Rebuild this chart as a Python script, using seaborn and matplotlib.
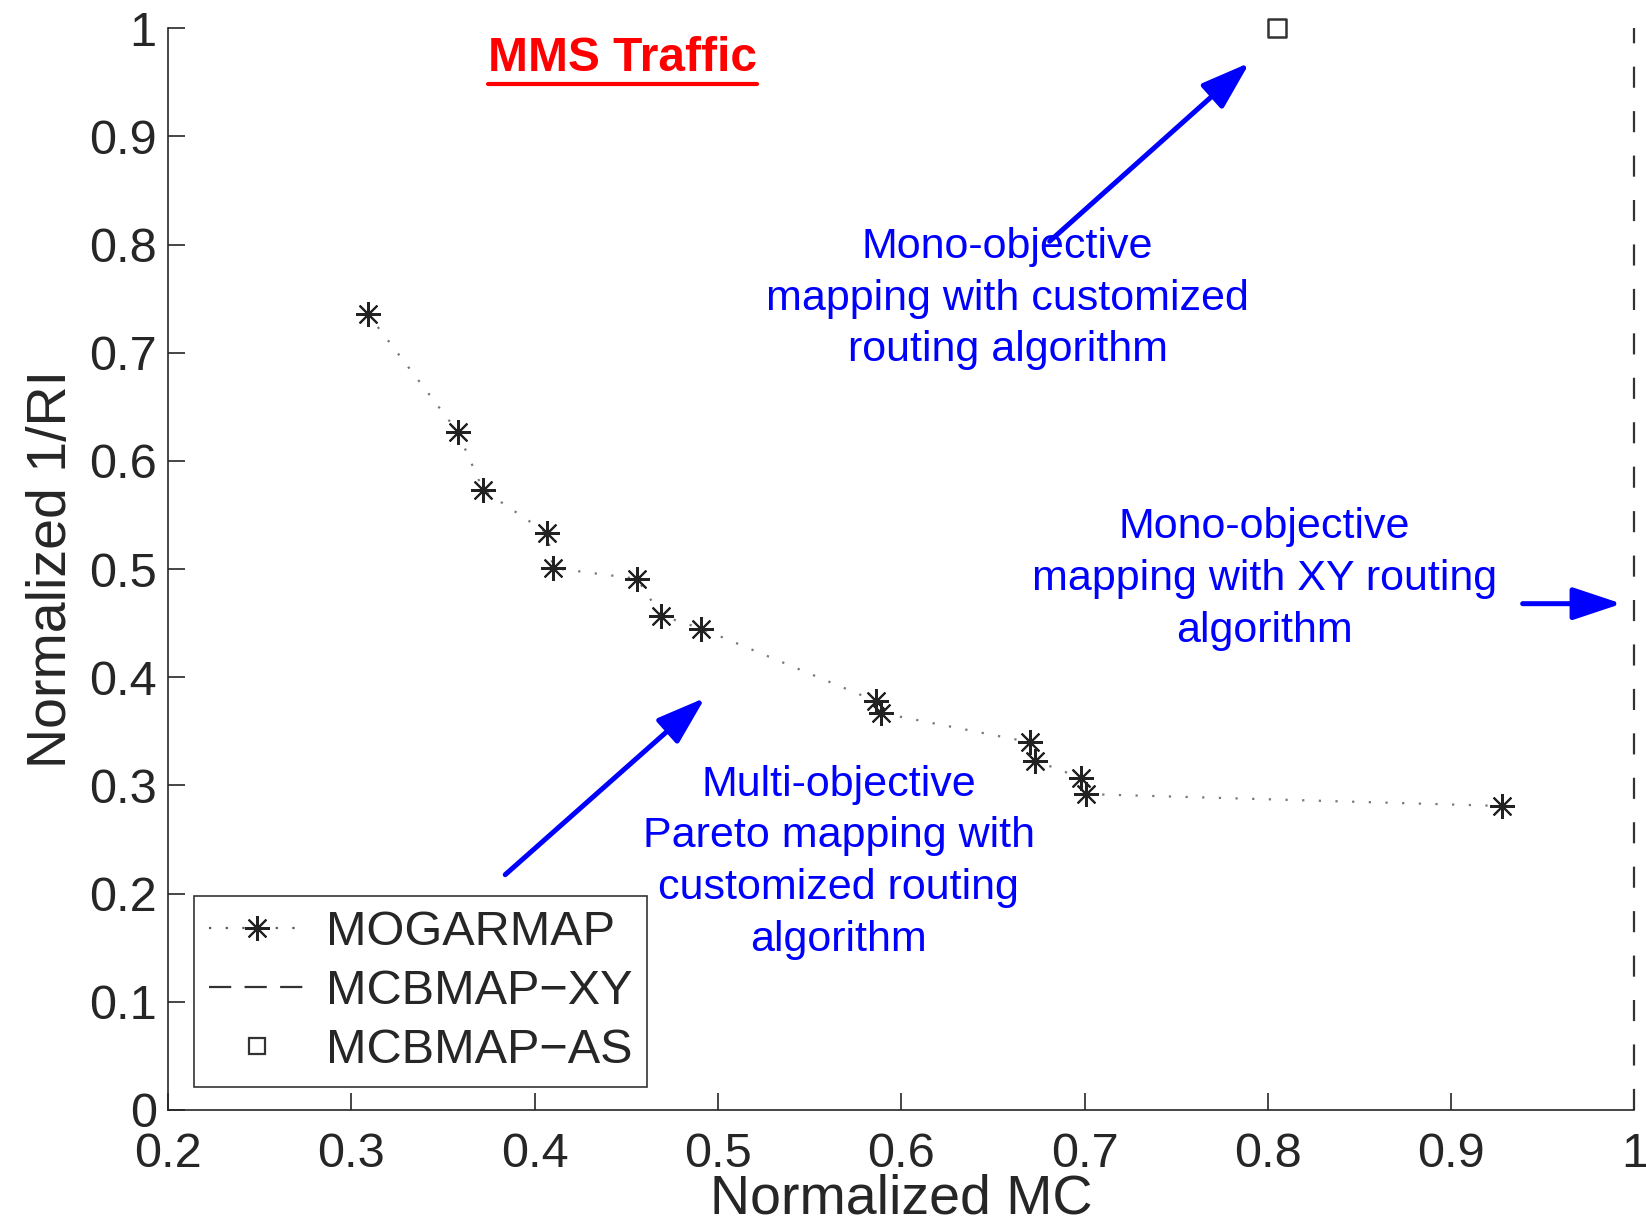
import matplotlib
matplotlib.use("Agg")
import matplotlib.pyplot as plt
import seaborn as sns
import pandas as pd
from matplotlib.ticker import FuncFormatter
from matplotlib.lines import Line2D

# Pareto front (MOGARMAP)
mc = [0.309, 0.358, 0.372, 0.407, 0.410, 0.456, 0.469, 0.491,
      0.586, 0.589, 0.670, 0.673, 0.698, 0.701, 0.928]
inv_ri = [0.736, 0.627, 0.573, 0.533, 0.501, 0.491, 0.457, 0.445,
          0.378, 0.367, 0.340, 0.323, 0.307, 0.292, 0.281]

# MCBMAP-XY (vertical line) and MCBMAP-AS (single point)
xy_mc = [1.0, 1.0]
xy_inv_ri = [0.0, 1.0]
as_mc = [0.805]
as_inv_ri = [1.0]

df = pd.DataFrame({"mc": mc, "inv_ri": inv_ri})

sns.set_style("ticks")
plt.rcParams["font.family"] = ["Liberation Sans", "DejaVu Sans"]

fig = plt.figure(figsize=(16.46, 12.23), dpi=100)
ax = fig.add_axes([0.102, 0.0924, 0.891, 0.8846])

asterisk = (8, 2, 0)
dotted = (0, (1, 6.5))
sns.lineplot(data=df, x="mc", y="inv_ri", ax=ax, sort=False, estimator=None,
             color="#777777", linestyle=dotted, linewidth=1.6, legend=False)
ax.plot(mc, inv_ri, linestyle="none", marker=asterisk, markersize=18,
        markeredgewidth=1.5, color="#222222")
ax.plot(xy_mc, xy_inv_ri, linestyle=(0, (9.5, 10.5)), color="#333333",
        linewidth=1.6, clip_on=False)
sns.scatterplot(x=as_mc, y=as_inv_ri, ax=ax, marker="s", s=170,
                facecolor="none", edgecolor="#333333", linewidth=1.8,
                legend=False, clip_on=False)

ax.set_xlim(0.2, 1.0)
ax.set_ylim(0, 1)
ax.set_xticks([0.2, 0.3, 0.4, 0.5, 0.6, 0.7, 0.8, 0.9, 1.0])
ax.set_yticks([0, 0.1, 0.2, 0.3, 0.4, 0.5, 0.6, 0.7, 0.8, 0.9, 1.0])
fmt = FuncFormatter(lambda v, p: "%g" % round(v, 1))
ax.xaxis.set_major_formatter(fmt)
ax.yaxis.set_major_formatter(fmt)
ax.tick_params(direction="in", length=12, width=1.2, labelsize=35)
ax.tick_params(axis="x", pad=16)
ax.tick_params(axis="y", pad=8)
for s in ["top", "right"]:
    ax.spines[s].set_visible(False)
for s in ["left", "bottom"]:
    ax.spines[s].set_linewidth(1.2)
ax.set_xlabel("Normalized MC", fontsize=40, labelpad=-3)
ax.set_ylabel("Normalized 1/RI", fontsize=40, labelpad=8)

# legend with proxy handles
h1 = Line2D([], [], color="#555555", linestyle=dotted, linewidth=1.6,
            marker=asterisk, markersize=18, markeredgecolor="#222222",
            markeredgewidth=1.5)
h2 = Line2D([], [], color="#333333", linestyle=(0, (10, 6)), linewidth=1.6)
h3 = Line2D([], [], color="#333333", linestyle="none", marker="s",
            markersize=12, markerfacecolor="none", markeredgewidth=1.6)
leg = ax.legend([h1, h2, h3], ["MOGARMAP", "MCBMAP\u2212XY", "MCBMAP\u2212AS"],
                loc="lower left", bbox_to_anchor=(0.018, 0.021),
                fontsize=35, frameon=True, fancybox=False, edgecolor="black",
                handlelength=2.0, handletextpad=0.4, borderpad=0.3,
                labelspacing=0.28, numpoints=1, borderaxespad=0)
leg.get_frame().set_linewidth(1.2)

blue = "#0000FF"
ax.text(0.658, 0.75, "Mono-objective\nmapping with customized\nrouting algorithm",
        color=blue, fontsize=31, ha="center", va="center", linespacing=1.38)
ax.text(0.798, 0.491, "Mono-objective\nmapping with XY routing\nalgorithm",
        color=blue, fontsize=31, ha="center", va="center", linespacing=1.38)
ax.text(0.566, 0.229, "Multi-objective\nPareto mapping with\ncustomized routing\nalgorithm",
        color=blue, fontsize=31, ha="center", va="center", linespacing=1.38)

arrow = dict(arrowstyle="-|>,head_length=3.0,head_width=1.0", color=blue,
             lw=3.6, shrinkA=0, shrinkB=0)
ax.annotate("", xy=(0.790, 0.968), xytext=(0.681, 0.803), arrowprops=arrow)
ax.annotate("", xy=(0.993, 0.468), xytext=(0.939, 0.468), arrowprops=arrow)
ax.annotate("", xy=(0.493, 0.381), xytext=(0.384, 0.2175), arrowprops=arrow)

title = ax.text(0.448, 0.972, "MMS Traffic", color="red", fontsize=34.5,
                fontweight="bold", ha="center", va="center")
# underline the title
fig.canvas.draw()
bb = title.get_window_extent().transformed(ax.transAxes.inverted())
ax.plot([bb.x0, bb.x1], [bb.y0 - 0.003, bb.y0 - 0.003], transform=ax.transAxes,
        color="red", linewidth=3, clip_on=False)

fig.savefig("out.png", dpi=100)
